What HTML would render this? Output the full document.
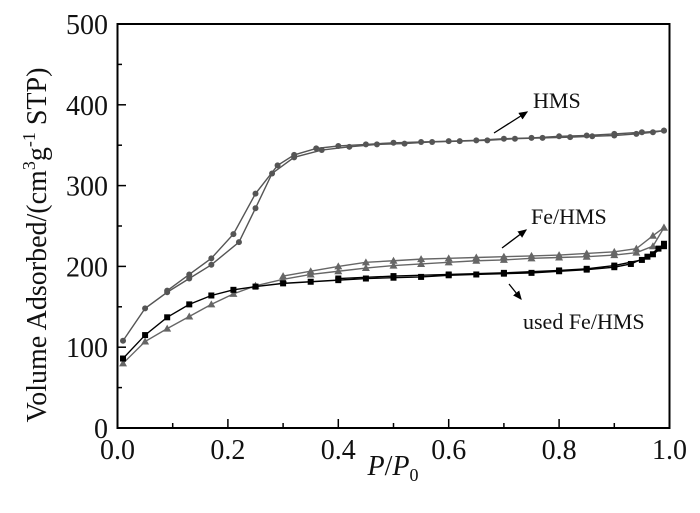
<!DOCTYPE html>
<html><head><meta charset="utf-8"><style>
body{margin:0;background:#fff;width:700px;height:508px;overflow:hidden}
svg text{font-family:"Liberation Serif",serif;fill:#111}
</style></head><body>
<svg id="chart" width="700" height="508" viewBox="0 0 700 508" xmlns="http://www.w3.org/2000/svg">
<rect x="117.5" y="24" width="552" height="404" fill="none" stroke="#000" stroke-width="2"/>
<g id="axes"></g>
<g id="series"></g>
<text x="46" y="245" font-size="28" text-anchor="middle" transform="rotate(-90 46 245)">Volume Adsorbed/(cm<tspan dy="-11" font-size="18">3</tspan><tspan dy="11">g</tspan><tspan dy="-11" font-size="18">-1</tspan><tspan dy="11"> STP)</tspan></text>
<text x="393" y="475" font-size="28" text-anchor="middle"><tspan font-style="italic">P</tspan>/<tspan font-style="italic">P</tspan><tspan font-size="18" dy="6">0</tspan></text>
<text x="533" y="108" font-size="22">HMS</text>
<text x="531" y="224" font-size="22">Fe/HMS</text>
<text x="523" y="329" font-size="22">used Fe/HMS</text>
<defs><marker id="ah" markerWidth="8" markerHeight="8" refX="6" refY="3" orient="auto"><path d="M0,0 L7,3 L0,6 z" fill="#000"/></marker></defs>
<line x1="494" y1="133" x2="527" y2="112" stroke="#000" stroke-width="1.3" marker-end="url(#ah)"/>
<line x1="502" y1="248" x2="526" y2="230" stroke="#000" stroke-width="1.3" marker-end="url(#ah)"/>
<line x1="509" y1="284" x2="521" y2="299" stroke="#000" stroke-width="1.3" marker-end="url(#ah)"/>
</svg>
<script>
const xTicks=[0,0.2,0.4,0.6,0.8,1.0];
const xTickLabels=["0.0","0.2","0.4","0.6","0.8","1.0"];
const yTicks=[0,100,200,300,400,500];
const yTickLabels=["0","100","200","300","400","500"];
const hmsAdsX=[0.01,0.05,0.09,0.13,0.17,0.22,0.25,0.28,0.32,0.37,0.42,0.47,0.52,0.57,0.62,0.67,0.72,0.77,0.82,0.86,0.9,0.94,0.97,0.99];
const hmsAdsY=[108,148,168,185,202,230,272,315,335,344,348,351,352,354,355,356,358,359,360,361,362,364,366,368];
const hmsDesX=[0.99,0.95,0.9,0.85,0.8,0.75,0.7,0.65,0.6,0.55,0.5,0.45,0.4,0.36,0.32,0.29,0.25,0.21,0.17,0.13,0.09];
const hmsDesY=[368,366,364,362,361,359,358,356,355,354,353,351,349,346,338,325,290,240,210,190,170];
const feAdsX=[0.01,0.05,0.09,0.13,0.17,0.21,0.25,0.3,0.35,0.4,0.45,0.5,0.55,0.6,0.65,0.7,0.75,0.8,0.85,0.9,0.94,0.97,0.99];
const feAdsY=[80,107,123,138,153,166,176,184,190,194,198,201,203,205,207,208,210,211,212,214,217,225,248];
const feDesX=[0.99,0.97,0.94,0.9,0.85,0.8,0.75,0.7,0.65,0.6,0.55,0.5,0.45,0.4,0.35,0.3];
const feDesY=[248,238,222,218,216,214,213,212,211,210,209,207,205,200,194,188];
const usedAdsX=[0.01,0.05,0.09,0.13,0.17,0.21,0.25,0.3,0.35,0.4,0.45,0.5,0.55,0.6,0.65,0.7,0.75,0.8,0.85,0.9,0.93,0.96,0.98,0.99];
const usedAdsY=[86,115,137,153,164,171,175,179,181,183,185,186,187,189,190,191,192,194,196,199,203,212,222,228];
const usedDesX=[0.99,0.97,0.95,0.9,0.85,0.8,0.7,0.6,0.5,0.4];
const usedDesY=[225,215,208,201,197,195,192,190,188,185];
const NS="http://www.w3.org/2000/svg";
const X=v=>117.5+v*552, Y=v=>428-v*0.808;
const axes=document.getElementById('axes'), ser=document.getElementById('series');
function mk(t,a,p){const e=document.createElementNS(NS,t);for(const k in a)e.setAttribute(k,a[k]);p.appendChild(e);return e;}
xTicks.forEach((v,i)=>{
 const l=mk('line',{x1:X(v),x2:X(v),y1:428,y2:419,stroke:'#000','stroke-width':1.5},axes);
 
 
 if(i<xTicks.length-1){const m=mk('line',{x1:X(v+0.1),x2:X(v+0.1),y1:428,y2:423,stroke:'#000','stroke-width':1.5},axes);
 
 }
 const t=mk('text',{x:X(v),y:459,'font-size':28,'text-anchor':'middle'},axes);t.textContent=xTickLabels[i];
 
 
});
yTicks.forEach((v,i)=>{
 const l=mk('line',{x1:117.5,x2:126,y1:Y(v),y2:Y(v),stroke:'#000','stroke-width':1.5},axes);
 
 
 if(i<yTicks.length-1){const m=mk('line',{x1:117.5,x2:122,y1:Y(v+50),y2:Y(v+50),stroke:'#000','stroke-width':1.5},axes);
 
 }
 const t=mk('text',{x:108,y:Y(v)+10,'font-size':28,'text-anchor':'end'},axes);t.textContent=yTickLabels[i];
 
 
});
function series(xs,ys,color,shape,name){
 const g=mk('g',{},ser);
 
 
 const pl=mk('polyline',{points:xs.map((x,i)=>X(x)+','+Y(ys[i])).join(' '),fill:'none',stroke:color,'stroke-width':1.4},g);
 
 
 xs.forEach((x,i)=>{const cx=X(x),cy=Y(ys[i]);let m;
  if(shape==='c')m=mk('circle',{cx:cx,cy:cy,r:3,fill:color},g);
  else if(shape==='s')m=mk('rect',{x:cx-3,y:cy-3,width:6,height:6,fill:color},g);
  else m=mk('polygon',{points:`${cx},${cy-4} ${cx-4},${cy+3} ${cx+4},${cy+3}`,fill:color},g);
  
  });
}
series(hmsAdsX,hmsAdsY,'#555','c','hms-adsorption');
series(hmsDesX,hmsDesY,'#555','c','hms-desorption');
series(feAdsX,feAdsY,'#666','t','fe-hms-adsorption');
series(feDesX,feDesY,'#666','t','fe-hms-desorption');
series(usedAdsX,usedAdsY,'#000','s','used-fe-hms-adsorption');
series(usedDesX,usedDesY,'#000','s','used-fe-hms-desorption');
</script>
</body></html>
